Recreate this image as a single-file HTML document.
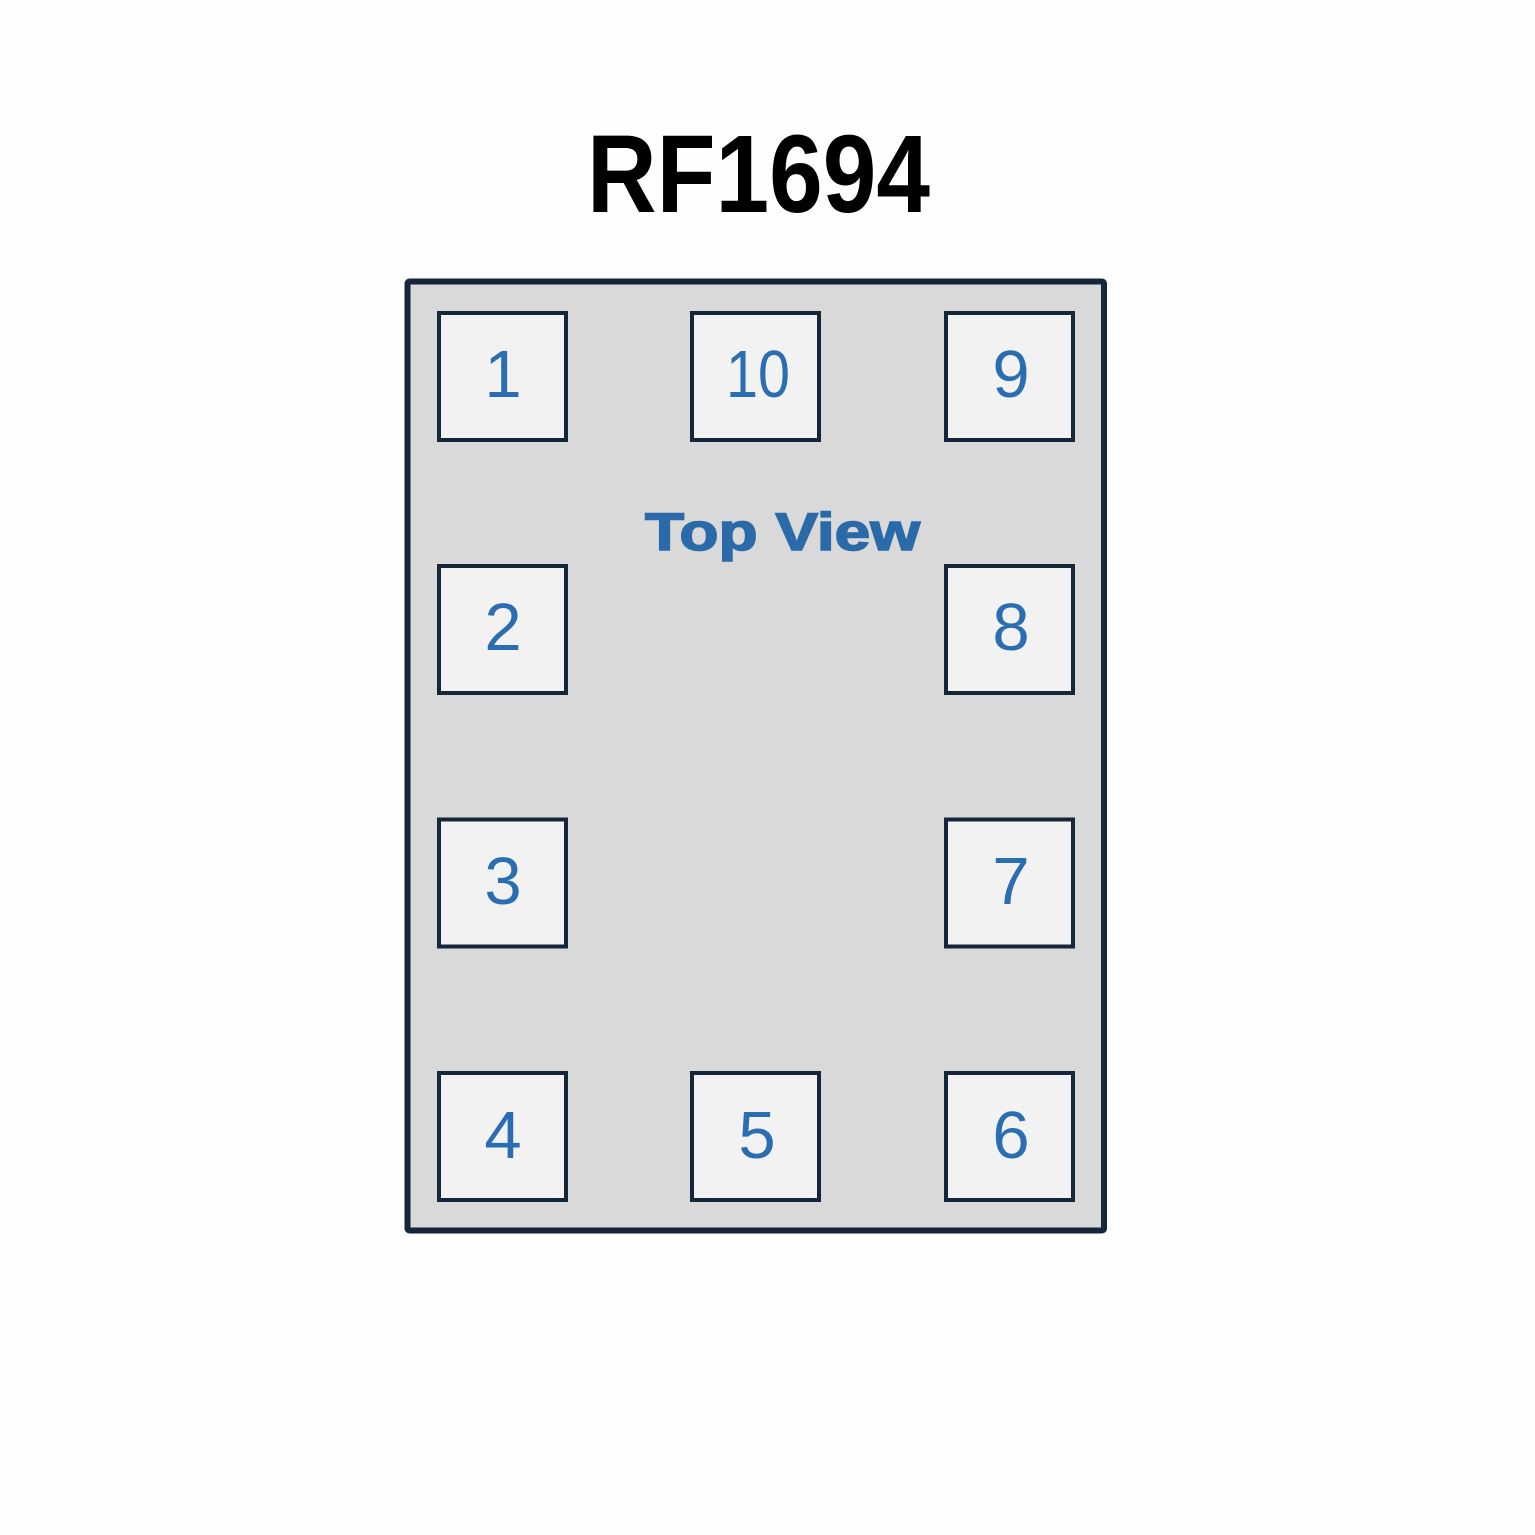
<!DOCTYPE html>
<html>
<head>
<meta charset="utf-8">
<style>
html,body{margin:0;padding:0;background:#fefefe;}
svg{display:block;}
</style>
</head>
<body>
<svg width="1535" height="1535" viewBox="0 0 1535 1535" xmlns="http://www.w3.org/2000/svg">
<rect x="0" y="0" width="1535" height="1535" fill="#fefefe"/>
<text x="587" y="212" font-family="Liberation Sans, Arial, sans-serif" font-weight="bold" font-size="110" fill="#000" textLength="343" lengthAdjust="spacingAndGlyphs">RF1694</text>
<rect x="407.5" y="281.5" width="696.5" height="949" rx="2" fill="#d9d9d9" stroke="#15253a" stroke-width="6"/>
<text x="645" y="550" font-family="Liberation Sans, Arial, sans-serif" font-weight="bold" font-size="53" fill="#2b6aa8" stroke="#2b6aa8" stroke-width="1.6" textLength="275" lengthAdjust="spacingAndGlyphs">Top View</text>
<g fill="#f2f2f2" stroke="#15253a" stroke-width="4">
<rect x="439" y="313" width="127" height="127"/>
<rect x="692" y="313" width="127" height="127"/>
<rect x="946" y="313" width="127" height="127"/>
<rect x="439" y="566" width="127" height="127"/>
<rect x="946" y="566" width="127" height="127"/>
<rect x="439" y="819.5" width="127" height="127"/>
<rect x="946" y="819.5" width="127" height="127"/>
<rect x="439" y="1073" width="127" height="127"/>
<rect x="692" y="1073" width="127" height="127"/>
<rect x="946" y="1073" width="127" height="127"/>
</g>
<g font-family="Liberation Sans, Arial, sans-serif" font-size="67" fill="#2a6db0" text-anchor="middle">
<text x="503" y="397">1</text>
<text x="758" y="397" textLength="64" lengthAdjust="spacingAndGlyphs">10</text>
<text x="1011" y="397">9</text>
<text x="503" y="650">2</text>
<text x="1011" y="650">8</text>
<text x="503" y="904">3</text>
<text x="1011" y="904">7</text>
<text x="503" y="1158">4</text>
<text x="757" y="1158">5</text>
<text x="1011" y="1158">6</text>
</g>
</svg>
</body>
</html>
